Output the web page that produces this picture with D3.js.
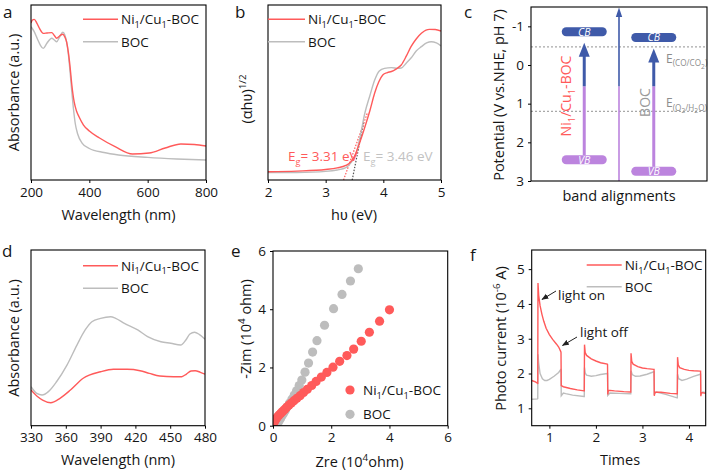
<!DOCTYPE html>
<html><head><meta charset="utf-8">
<script src="https://cdn.jsdelivr.net/npm/d3@7"></script>
<style>body{margin:0;background:#fff} text{font-family:"Open Sans",sans-serif}</style>
</head><body><svg id="c" width="709" height="473" xmlns="http://www.w3.org/2000/svg"></svg>
<script>
// ---------------- DATA ----------------
// (a) UV-vis absorbance (a.u.)
const aWaveNiCu = [200,205,211,220,230,242,255,271,280,288,298,309,316,322,328,334,340,348,356,365,380,400,435,490,548,605,660,714,760,800];
const aAbsNiCu  = [0.897,0.914,0.918,0.897,0.863,0.838,0.84,0.842,0.826,0.81,0.823,0.833,0.817,0.789,0.731,0.646,0.543,0.446,0.394,0.36,0.314,0.28,0.24,0.189,0.149,0.154,0.183,0.206,0.203,0.194];
const aWaveBOC  = [200,210,222,232,242,255,271,280,288,298,309,316,322,328,334,340,346,352,360,375,400,450,500,600,700,800];
const aAbsBOC   = [0.876,0.851,0.806,0.771,0.752,0.783,0.81,0.8,0.79,0.817,0.844,0.829,0.789,0.72,0.617,0.503,0.4,0.32,0.263,0.211,0.18,0.157,0.143,0.129,0.12,0.114];
const aTicks = [200,400,600,800];

// (b) Tauc plot
const bEnergyNiCu = [2.0,2.5,3.0,3.2,3.35,3.45,3.51,3.6,3.68,3.77,3.85,3.92,3.99,4.07,4.14,4.22,4.31,4.4,4.48,4.57,4.66,4.74,4.8,4.9,5.0];
const bTaucNiCu   = [0.047,0.051,0.06,0.069,0.083,0.109,0.143,0.223,0.303,0.4,0.497,0.56,0.6,0.614,0.62,0.634,0.657,0.709,0.762,0.806,0.838,0.857,0.861,0.86,0.851];
const bEnergyBOC  = [2.0,2.5,3.0,3.2,3.35,3.45,3.53,3.6,3.68,3.77,3.85,3.93,4.02,4.14,4.25,4.31,4.4,4.48,4.57,4.66,4.75,4.83,4.92,5.0];
const bTaucBOC    = [0.042,0.043,0.049,0.057,0.071,0.103,0.154,0.251,0.383,0.486,0.571,0.623,0.638,0.642,0.638,0.64,0.669,0.697,0.737,0.762,0.783,0.79,0.783,0.766];
const bTangentNiCu = [[3.31,0],[3.72,0.38]];
const bTangentBOC  = [[3.46,0],[3.66,0.33]];
const bGaps = [3.31, 3.46];
const bTicks = [2,3,4,5];

// (c) band alignments (V vs NHE, pH 7)
const cMaterials = ["Ni1/Cu1-BOC","BOC"];
const cCB = [-0.86,-0.71];
const cVB = [2.45,2.75];
const cRefPotentials = [-0.47, 1.2];
const cSplit = 0.55;
const cTicks = [-1,0,1,2,3];

// (d) absorbance 330-480
const dWave    = [330,335,340,347,355,364,375,390,401,413,424,432,441,453,460,464,468,471.5,476,480];
const dAbsNiCu = [0.203,0.169,0.146,0.131,0.156,0.203,0.27,0.307,0.321,0.321,0.313,0.298,0.283,0.279,0.279,0.294,0.311,0.313,0.304,0.293];
const dWaveBOC = [330,335,339.5,345,352,361,369.6,376.7,382.5,390,398.7,403,410.5,422,430.5,442,450.5,459,463.5,467,471,475,480];
const dAbsBOC  = [0.222,0.184,0.175,0.194,0.25,0.345,0.459,0.545,0.592,0.611,0.62,0.611,0.583,0.545,0.507,0.478,0.469,0.459,0.488,0.522,0.532,0.52,0.492];
const dTicks = [330,360,390,420,450,480];

// (e) Nyquist (10^4 ohm)
const eZreNiCu = [4.0,3.66,3.31,3.03,2.77,2.54,2.29,2.06,1.85,1.66,1.48,1.33,1.18,1.05,0.93,0.82,0.72,0.63,0.55,0.47,0.4,0.33,0.27,0.21,0.16,0.12,0.08,0.05,0.03];
const eZimNiCu = [3.98,3.59,3.21,2.9,2.63,2.41,2.21,2.01,1.83,1.67,1.52,1.38,1.25,1.14,1.03,0.94,0.86,0.78,0.71,0.63,0.56,0.49,0.43,0.37,0.31,0.26,0.2,0.15,0.1];
const eZreBOC  = [2.93,2.66,2.37,2.08,1.77,1.51,1.36,1.22,1.1,0.99,0.9,0.81,0.73,0.65,0.57,0.5,0.43,0.37,0.31,0.26,0.21,0.17,0.13,0.1];
const eZimBOC  = [5.39,4.97,4.51,4.02,3.45,2.92,2.53,2.15,1.84,1.57,1.38,1.2,1.05,0.91,0.78,0.66,0.54,0.44,0.34,0.25,0.17,0.1,0.05,0.01];
const eTicks = [0,2,4,6];

// (f) photocurrent (10^-6 A)
const fTimeNiCu = [0.62,0.7,0.745,0.75,0.755,0.77,0.8,0.84,0.88,0.93,1.0,1.07,1.15,1.2,1.245,1.25,1.255,1.3,1.45,1.6,1.745,1.75,1.755,1.77,1.8,1.9,2.0,2.1,2.245,2.25,2.255,2.27,2.4,2.6,2.745,2.75,2.755,2.77,2.8,2.9,3.0,3.1,3.245,3.25,3.255,3.27,3.4,3.6,3.745,3.75,3.755,3.77,3.8,3.9,4.0,4.1,4.245,4.25,4.255,4.27,4.36];
const fCurNiCu  = [1.8,1.76,1.72,1.7,4.6,4.25,3.95,3.7,3.5,3.3,3.12,2.98,2.85,2.76,2.63,2.6,1.65,1.62,1.57,1.53,1.5,1.5,2.83,2.6,2.52,2.42,2.36,2.31,2.27,2.26,1.4,1.52,1.5,1.48,1.47,1.47,2.58,2.35,2.27,2.2,2.16,2.14,2.12,2.12,1.36,1.47,1.46,1.43,1.42,1.42,2.47,2.25,2.17,2.12,2.09,2.08,2.07,2.07,1.35,1.45,1.43];
const fTimeBOC  = [0.62,0.745,0.75,0.755,0.77,0.8,0.85,0.9,0.95,1.0,1.1,1.2,1.245,1.25,1.255,1.3,1.35,1.5,1.745,1.75,1.755,1.77,1.8,1.9,2.0,2.1,2.245,2.25,2.255,2.3,2.5,2.745,2.75,2.755,2.78,2.85,2.95,3.1,3.245,3.25,3.255,3.3,3.5,3.745,3.75,3.755,3.78,3.85,3.95,4.1,4.245,4.25,4.255,4.3,4.36];
const fCurBOC   = [1.26,1.27,1.28,2.55,2.3,2.0,1.85,1.8,1.8,1.83,1.92,2.03,2.12,2.12,1.36,1.44,1.42,1.38,1.34,1.34,2.17,2.02,1.95,1.92,1.94,1.97,2.0,2.0,1.37,1.44,1.43,1.42,1.42,2.08,1.97,1.92,1.93,1.98,2.05,2.05,1.42,1.47,1.4,1.3,1.3,1.98,1.85,1.8,1.84,1.92,1.98,1.98,1.42,1.47,1.45];
const fXTicks = [1,2,3,4];
const fYTicks = [1,2,3,4,5];

const legendNiCu = ["Ni",["1","sub"],"/Cu",["1","sub"],"-BOC"];
const legendBOC = ["BOC"];

// ---------------- DRAWING ----------------
const RED="#ff5a5a", GRAY="#bdbdbd", BLUE="#3f5aa9", PURPLE="#bc84de", INK="#151515";
const TICKFS=13.5, LABFS=14.5, LEGFS=13.5, LETTERFS=17;
const svg = d3.select("#c");
const defs = svg.append("defs");
defs.append("marker").attr("id","ah").attr("viewBox","0 0 10 10").attr("refX",9).attr("refY",5)
  .attr("markerWidth",7).attr("markerHeight",7).attr("orient","auto").attr("markerUnits","userSpaceOnUse")
  .append("path").attr("d","M0,1 L10,5 L0,9 Z").attr("fill","#222");

function rich(t, parts, fs){
  let off=0;
  parts.forEach(p=>{
    const [s,k] = Array.isArray(p)?p:[p,""];
    let target=0, size=fs;
    if(k==="sub"){target=fs*0.28; size=fs*0.68;}
    else if(k==="sub2"){target=fs*0.5; size=fs*0.56;}
    else if(k==="sup"){target=-fs*0.42; size=fs*0.68;}
    const ts=t.append("tspan").text(s).attr("font-size",size);
    if(target-off!==0) ts.attr("dy",target-off);
    off=target;
  });
  return t;
}
function label(x,y,parts,fs,o={}){
  const t=svg.append("text").attr("font-size",fs).attr("fill",o.fill||INK).attr("text-anchor",o.anchor||"start");
  if(o.rotate!==undefined) t.attr("transform",`translate(${x},${y}) rotate(${o.rotate})`);
  else t.attr("x",x).attr("y",y);
  if(o.italic) t.attr("font-style","italic");
  if(typeof parts==="string") t.text(parts); else rich(t,parts,fs);
  return t;
}
function frame(xs,ys){
  svg.append("rect").attr("x",xs.range()[0]).attr("y",Math.min(...ys.range()))
    .attr("width",xs.range()[1]-xs.range()[0]).attr("height",Math.abs(ys.range()[0]-ys.range()[1]))
    .attr("fill","none").attr("stroke","#000").attr("stroke-width",1.1);
}
function styleAxis(g){
  g.select(".domain").remove();
  g.selectAll("line").attr("stroke","#000");
  g.selectAll("text").attr("font-size",TICKFS).attr("font-family","'Open Sans',sans-serif").attr("fill",INK);
}
function xAxis(xs,ys,ticks){
  const g=svg.append("g").attr("transform",`translate(0,${ys.range()[0]})`)
    .call(d3.axisBottom(xs).tickValues(ticks).tickSize(3).tickPadding(4).tickFormat(d=>String(d)));
  styleAxis(g);
}
function yAxis(xs,ys,ticks){
  const g=svg.append("g").attr("transform",`translate(${xs.range()[0]},0)`)
    .call(d3.axisLeft(ys).tickValues(ticks).tickSize(3).tickPadding(4).tickFormat(d=>String(d)));
  styleAxis(g);
}
function clipFor(id,xs,ys){
  defs.append("clipPath").attr("id",id).append("rect").attr("x",xs.range()[0]).attr("y",Math.min(...ys.range()))
    .attr("width",xs.range()[1]-xs.range()[0]).attr("height",Math.abs(ys.range()[0]-ys.range()[1]));
  return `url(#${id})`;
}
function drawLine(xs,ys,X,Y,color,clip,curve){
  const pts=X.map((x,i)=>[x,Y[i]]);
  svg.append("path").datum(pts).attr("clip-path",clip).attr("fill","none").attr("stroke",color).attr("stroke-width",1.4)
    .attr("d",d3.line().x(d=>xs(d[0])).y(d=>ys(d[1])).curve(curve||d3.curveMonotoneX));
}
function lineLegend(x0,x1,y,items){
  items.forEach((it,i)=>{
    const yy=y[i];
    svg.append("line").attr("x1",x0).attr("x2",x1).attr("y1",yy).attr("y2",yy).attr("stroke",it.color).attr("stroke-width",1.5);
    label(x1+3,yy+4.8,it.parts,LEGFS);
  });
}

// ----- panel a -----
{
  const xs=d3.scaleLinear().domain([200,800]).range([31,206]);
  const ys=d3.scaleLinear().domain([0,1]).range([180,5]);
  const cp=clipFor("ca",xs,ys);
  drawLine(xs,ys,aWaveBOC,aAbsBOC,GRAY,cp);
  drawLine(xs,ys,aWaveNiCu,aAbsNiCu,RED,cp);
  frame(xs,ys); xAxis(xs,ys,aTicks);
  lineLegend(83,118,[19.3,41.7],[{color:RED,parts:legendNiCu},{color:GRAY,parts:legendBOC}]);
  label(118.5,220,"Wavelength (nm)",LABFS,{anchor:"middle"});
  label(19,92.5,"Absorbance (a.u.)",LABFS,{anchor:"middle",rotate:-90});
  label(3,18,"a",LETTERFS);
}
// ----- panel b -----
{
  const xs=d3.scaleLinear().domain([2,5]).range([268,441]);
  const ys=d3.scaleLinear().domain([0,1]).range([180,5]);
  const cp=clipFor("cb",xs,ys);
  const tl=d3.line().x(d=>xs(d[0])).y(d=>ys(d[1]));
  svg.append("path").datum(bTangentBOC).attr("d",tl).attr("stroke","#555").attr("stroke-width",1.2).attr("stroke-dasharray","1.5,1.5").attr("fill","none");
  svg.append("path").datum(bTangentNiCu).attr("d",tl).attr("stroke",RED).attr("stroke-width",1.2).attr("stroke-dasharray","1.5,1.5").attr("fill","none");
  drawLine(xs,ys,bEnergyBOC,bTaucBOC,GRAY,cp);
  drawLine(xs,ys,bEnergyNiCu,bTaucNiCu,RED,cp);
  frame(xs,ys); xAxis(xs,ys,bTicks);
  lineLegend(268,305,[19.3,41.7],[{color:RED,parts:legendNiCu},{color:GRAY,parts:legendBOC}]);
  label(288,161,["E",["g","sub"],"= "+bGaps[0].toFixed(2)+" eV"],13.5,{fill:RED});
  label(363,161,["E",["g","sub"],"= "+bGaps[1].toFixed(2)+" eV"],13.5,{fill:"#c2c2c2"});
  label(354,220,"h\u028B (eV)",LABFS,{anchor:"middle"});
  label(252,99,["(\u03B1h\u028B)",["1/2","sup"]],LABFS,{anchor:"middle",rotate:-90});
  label(235,18,"b",LETTERFS);
}
// ----- panel c -----
{
  const xs=d3.scalePoint().domain(cMaterials).range([531,707]).padding(0.766);
  const ys=d3.scaleLinear().domain([-1.5,3]).range([7,181]);
  const xr=d3.scaleLinear().range([531,707]);
  const barW=45, barH=9;
  const midX=(xs(cMaterials[0])+xs(cMaterials[1]))/2;
  cRefPotentials.forEach(p=>{
    svg.append("line").attr("x1",531).attr("x2",707).attr("y1",ys(p)).attr("y2",ys(p))
      .attr("stroke","#a8a8a8").attr("stroke-width",1.1).attr("stroke-dasharray","2,2");
  });
  svg.append("line").attr("x1",midX).attr("x2",midX).attr("y1",181).attr("y2",ys(cSplit)).attr("stroke",PURPLE).attr("stroke-width",1.6);
  svg.append("line").attr("x1",midX).attr("x2",midX).attr("y1",ys(cSplit)).attr("y2",ys(-1.5)+9).attr("stroke",BLUE).attr("stroke-width",1.6);
  svg.append("path").attr("d",`M${midX-3.2},${ys(-1.5)+10} L${midX},${ys(-1.5)+0.5} L${midX+3.2},${ys(-1.5)+10} Z`).attr("fill",BLUE);
  cMaterials.forEach((m,i)=>{
    const x=xs(m);
    const y0=ys(cVB[i])-barH/2, tip=ys(cCB[i])+barH/2+6.5;
    svg.append("line").attr("x1",x).attr("x2",x).attr("y1",y0).attr("y2",ys(cSplit)).attr("stroke",PURPLE).attr("stroke-width",3);
    svg.append("line").attr("x1",x).attr("x2",x).attr("y1",ys(cSplit)).attr("y2",tip+12).attr("stroke",BLUE).attr("stroke-width",3);
    svg.append("path").attr("d",`M${x-5.5},${tip+14} L${x},${tip} L${x+5.5},${tip+14} Z`).attr("fill",BLUE);
    [[cCB[i],BLUE,"CB"],[cVB[i],PURPLE,"VB"]].forEach(([p,col,t])=>{
      svg.append("rect").attr("x",x-barW/2).attr("y",ys(p)-barH/2).attr("width",barW).attr("height",barH)
        .attr("rx",4.5).attr("fill",col);
      label(x,ys(p)+3.8,t,10.5,{anchor:"middle",fill:"#fff",italic:true});
    });
  });
  label(571,96,legendNiCu,14,{anchor:"middle",rotate:-90,fill:RED});
  label(650,102.5,legendBOC,14,{anchor:"middle",rotate:-90,fill:"#9a9a9a"});
  label(666,ys(cRefPotentials[0])+16,["E",["(CO/CO","sub"],["2","sub2"],[")","sub"]],12,{fill:"#8c8c8c"});
  label(666,ys(cRefPotentials[1])-4,["E",["(O","sub"],["2","sub2"],["/H","sub"],["2","sub2"],["O)","sub"]],12,{fill:"#8c8c8c"});
  frame(xr,ys);
  yAxis(xr,ys,cTicks);
  label(619,201,"band alignments",LABFS,{anchor:"middle"});
  label(504,95,"Potential (V vs.NHE, pH 7)",LABFS,{anchor:"middle",rotate:-90});
  label(464,18,"c",LETTERFS);
}
// ----- panel d -----
{
  const xs=d3.scaleLinear().domain([330,480]).range([31,205]);
  const ys=d3.scaleLinear().domain([0,1]).range([425.7,250]);
  const cp=clipFor("cd",xs,ys);
  drawLine(xs,ys,dWaveBOC,dAbsBOC,GRAY,cp);
  drawLine(xs,ys,dWave,dAbsNiCu,RED,cp);
  frame(xs,ys); xAxis(xs,ys,dTicks);
  lineLegend(83,118,[265.7,288.3],[{color:RED,parts:legendNiCu},{color:GRAY,parts:legendBOC}]);
  label(118,465,"Wavelength (nm)",LABFS,{anchor:"middle"});
  label(19,338,"Absorbance (a.u.)",LABFS,{anchor:"middle",rotate:-90});
  label(2,257,"d",LETTERFS);
}
// ----- panel e -----
{
  const xs=d3.scaleLinear().domain([0,6]).range([273,447.7]);
  const ys=d3.scaleLinear().domain([0,6]).range([425.7,251]);
  const cp=clipFor("ce",xs,ys);
  const g=svg.append("g").attr("clip-path",cp);
  g.selectAll("c.b").data(eZreBOC).enter().append("circle").attr("cx",d=>xs(d)).attr("cy",(d,i)=>ys(eZimBOC[i])).attr("r",4.6).attr("fill",GRAY);
  g.selectAll("c.r").data(eZreNiCu).enter().append("circle").attr("cx",d=>xs(d)).attr("cy",(d,i)=>ys(eZimNiCu[i])).attr("r",4.6).attr("fill",RED);
  frame(xs,ys); xAxis(xs,ys,eTicks); yAxis(xs,ys,eTicks);
  [[RED,legendNiCu,390],[GRAY,legendBOC,414.3]].forEach(([c,p,y])=>{
    svg.append("circle").attr("cx",350).attr("cy",y).attr("r",4.6).attr("fill",c);
    label(363,y+4.8,p,LEGFS);
  });
  label(359.5,467,["Zre (10",["4","sup"],"ohm)"],LABFS,{anchor:"middle"});
  label(251,329,["-Zim (10",["4","sup"]," ohm)"],LABFS,{anchor:"middle",rotate:-90});
  label(231,257,"e",LETTERFS);
}
// ----- panel f -----
{
  const xs=d3.scaleLinear().domain([0.62,4.36]).range([531.7,705.7]);
  const ys=d3.scaleLinear().domain([0.5,5.55]).range([425.7,250]);
  const cp=clipFor("cf",xs,ys);
  drawLine(xs,ys,fTimeBOC,fCurBOC,GRAY,cp,d3.curveLinear);
  drawLine(xs,ys,fTimeNiCu,fCurNiCu,RED,cp,d3.curveLinear);
  frame(xs,ys); xAxis(xs,ys,fXTicks); yAxis(xs,ys,fYTicks);
  lineLegend(586.7,621.7,[265,286.7],[{color:RED,parts:legendNiCu},{color:GRAY,parts:legendBOC}]);
  label(558,299.5,"light on",LEGFS);
  svg.append("line").attr("x1",556).attr("y1",291).attr("x2",542).attr("y2",299.5).attr("stroke","#222").attr("stroke-width",1).attr("marker-end","url(#ah)");
  label(580,337,"light off",LEGFS);
  svg.append("line").attr("x1",577).attr("y1",337).attr("x2",562.5).attr("y2",345.5).attr("stroke","#222").attr("stroke-width",1).attr("marker-end","url(#ah)");
  label(620,465,"Times",LABFS,{anchor:"middle"});
  label(506,338.5,["Photo current (10",["-6","sup"]," A)"],LABFS,{anchor:"middle",rotate:-90});
  label(470,261,"f",LETTERFS);
}
</script></body></html>
